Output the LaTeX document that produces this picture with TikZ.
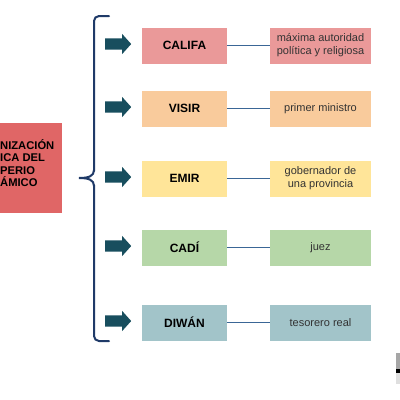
\documentclass[tikz,border=0pt]{standalone}
\usepackage{fontspec}
\setmainfont{Liberation Sans}
\usetikzlibrary{shapes.arrows}
\definecolor{mainred}{HTML}{E06666}
\definecolor{cpink}{HTML}{EA9999}
\definecolor{corange}{HTML}{F9CB9C}
\definecolor{cyellow}{HTML}{FFE599}
\definecolor{cgreen}{HTML}{B6D7A8}
\definecolor{cteal}{HTML}{A2C4C9}
\definecolor{bracecol}{HTML}{1F3A68}
\definecolor{linkcol}{HTML}{3A6696}
\definecolor{arrowcol}{HTML}{184E5E}
\definecolor{desctext}{HTML}{333333}
\tikzset{
  rolebox/.style={minimum width=85pt, minimum height=36pt, inner sep=0pt,
    font=\fontsize{12}{13}\selectfont\bfseries, text=black},
  descbox/.style={minimum width=101pt, minimum height=36pt, inner sep=0pt, align=center,
    font=\fontsize{11}{13}\selectfont, text=desctext},
  blockarrow/.style={single arrow, fill=arrowcol, draw=none, minimum height=26pt,
    minimum width=20pt, inner sep=5.5pt, single arrow head extend=4.5pt,
    single arrow tip angle=96, anchor=west},
  link/.style={draw=linkcol, line width=1.3pt},
}
\begin{document}
\begin{tikzpicture}[x=1pt,y=-1pt]
\useasboundingbox (0,0) rectangle (400,400);
\fill[white] (0,0) rectangle (400,400);
% main box (cropped at left edge)
\fill[mainred] (0,123) rectangle (62,213);
\node[anchor=west, align=left, inner sep=0pt, font=\fontsize{11.2}{12.5}\selectfont\bfseries, text=black] (main) at (0,163)
  {NIZACIÓN\\ICA DEL\\PERIO\\ÁMICO};
% bracket
\draw[bracecol, line width=2pt, line cap=round, rounded corners=5pt]
  (109,16) -- (94,16) -- (94,171);
\draw[bracecol, line width=2pt, line cap=round]
  (94,170) .. controls (94,176) and (89,178) .. (79,178)
  .. controls (89,178) and (94,180) .. (94,186);
\draw[bracecol, line width=2pt, line cap=round, rounded corners=5pt]
  (94,185) -- (94,341) -- (109,341);
% rows
\foreach \i/\y/\col/\role/\desc in {
  1/45.5/cpink/CALIFA/{máxima autoridad\\política y religiosa},
  2/108.5/corange/VISIR/{primer ministro},
  3/178.5/cyellow/EMIR/{gobernador de\\una provincia},
  4/247.5/cgreen/CADÍ/{juez},
  5/322.5/cteal/DIWÁN/{tesorero real}}{
  \node[blockarrow] (a\i) at (105,\y-1.5) {};
  \node[rolebox, fill=\col] (r\i) at (184.5,\y) {\role};
  \node[descbox, fill=\col] (d\i) at (320.5,\y) {\desc};
  \draw[link] (r\i.east) -- (d\i.west);
}
% small cropped object at bottom-right
\fill[gray!70] (395.5,353) rectangle (400,369);
\fill[black] (395.5,369) rectangle (400,373);
\fill[gray!25] (395.5,373) rectangle (400,384);
\end{tikzpicture}
\end{document}
